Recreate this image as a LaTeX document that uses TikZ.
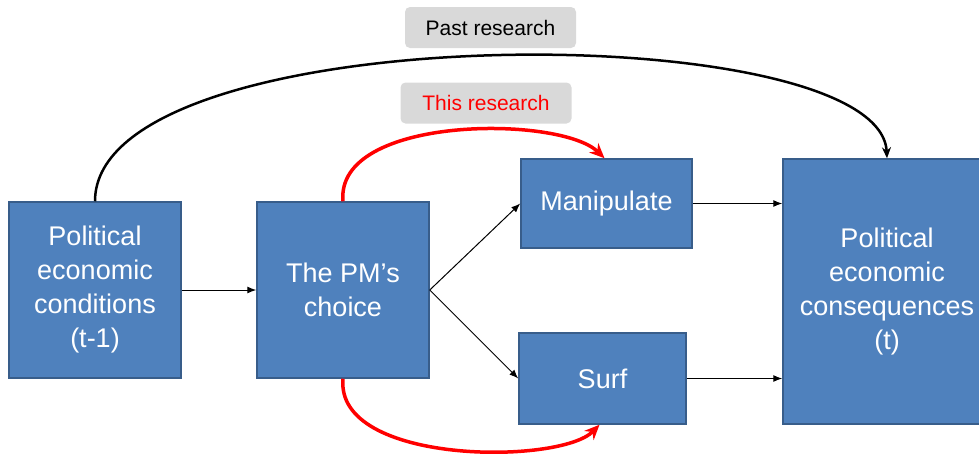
\documentclass[tikz,border=0pt]{standalone}
\usepackage{fontspec}
\setmainfont{Liberation Sans}
\usepackage{xcolor}
\usetikzlibrary{arrows.meta}
\definecolor{boxblue}{RGB}{79, 129, 189}
\definecolor{boxline}{RGB}{56, 93, 138}
\definecolor{tagred}{RGB}{255, 0, 0}
\definecolor{taggray}{RGB}{217, 217, 217}

\begin{document}
\begin{tikzpicture}[x=1pt, y=-1pt,
  box/.style={fill=boxblue, draw=boxline, line width=1.5pt, text=white,
    align=center, inner sep=0pt, font=\fontsize{27}{34}\selectfont},
  tag/.style={fill=taggray, rounded corners=5pt, inner sep=0pt,
    minimum width=171pt, minimum height=41pt, font=\fontsize{21}{25}\selectfont},
  flow/.style={line width=1pt, -{Latex[length=9pt,width=7pt]}},
  loop/.style={tagred, line width=3.5pt, -{Stealth[length=15pt,width=13pt]}}
  ]
  \clip (0,0) rectangle (979,453);

  % boxes
  \node[box, minimum width=172pt, minimum height=176pt] (cond) at (95,290)
    {Political\\economic\\conditions\\(t-1)};
  \node[box, minimum width=172pt, minimum height=176pt] (choice) at (343,290)
    {The PM’s\\choice};
  \node[box, minimum width=171pt, minimum height=89pt] (manip) at (606.5,203.5)
    {Manipulate};
  \node[box, minimum width=167pt, minimum height=91pt] (surf) at (602.5,378.5)
    {Surf};
  \node[box, minimum width=208pt, minimum height=265pt] (cons) at (887,291.5)
    {Political\\economic\\consequences\\(t)};

  % labels over the arcs
  \node[tag] (past) at (490.5,27.5) {Past research};
  \node[tag, text=tagred] (this) at (486,103) {This research};

  % straight links
  \draw[flow] (cond.east) -- (choice.west);
  \draw[flow] (choice.east) -- (manip.west);
  \draw[flow] (choice.east) -- (surf.west);
  \draw[flow] (manip.east) -- (manip.east -| cons.west);
  \draw[flow] (surf.east) -- (surf.east -| cons.west);

  % arcs
  \draw[line width=2.5pt, -{Stealth[length=11pt,width=9pt]}]
    (cond.north) .. controls (95,15) and (880,15) .. (cons.north);
  \draw[loop] (choice.north) .. controls (335,115) and (560,115) .. ([xshift=-2pt]manip.north);
  \draw[loop] (choice.south) .. controls (335,465) and (560,465) .. ([xshift=-3pt]surf.south);

\end{tikzpicture}
\end{document}
